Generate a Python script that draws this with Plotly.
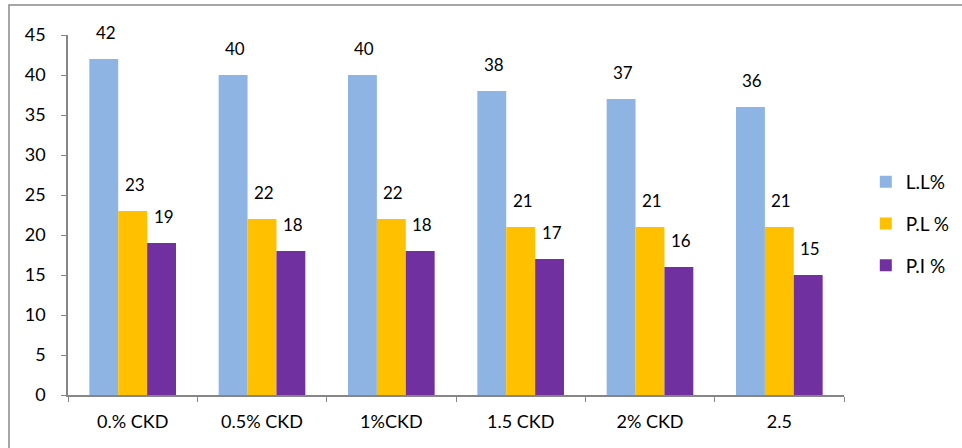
import plotly.graph_objects as go

categories = ["0.% CKD", "0.5% CKD", "1%CKD", "1.5 CKD", "2% CKD", "2.5"]
liquid_limit = [42, 40, 40, 38, 37, 36]
plastic_limit = [23, 22, 22, 21, 21, 21]
plasticity_index = [19, 18, 18, 17, 16, 15]

series = [
    ("L.L%", liquid_limit, "#8EB4E3"),
    ("P.L %", plastic_limit, "#FFC000"),
    ("P.I %", plasticity_index, "#7030A0"),
]

font_family = "Lato, Open Sans, sans-serif"
W, H = 962, 448
M = dict(l=68, r=118, t=35, b=53)
BARGAP = 0.33

fig = go.Figure()
for i, (name, vals, color) in enumerate(series):
    fig.add_trace(go.Bar(
        x=categories, y=vals, name=name,
        marker=dict(color=color, line=dict(width=0)),
        legendgroup=f"g{i}",
    ))

# value labels above each bar, offset to sit over its bar within the group
plot_w = W - M["l"] - M["r"]
cat_w = plot_w / len(categories)
bar_w = cat_w * (1 - BARGAP) / len(series)
for i, (name, vals, color) in enumerate(series):
    for j, v in enumerate(vals):
        fig.add_annotation(
            x=j, y=v, xref="x", yref="y", text=str(v), showarrow=False,
            xanchor="center", yanchor="bottom",
            xshift=(i - (len(series) - 1) / 2) * bar_w + 2, yshift=14,
            font=dict(size=17, color="#000000", family=font_family),
        )

fig.update_layout(
    width=W, height=H,
    margin=dict(**M, autoexpand=False),
    paper_bgcolor="white", plot_bgcolor="white",
    barmode="group", bargap=BARGAP, bargroupgap=0,
    font=dict(family=font_family, size=17, color="#000000"),
    showlegend=True,
    legend=dict(
        xref="container", yref="container",
        x=0.9, y=0.5, xanchor="left", yanchor="middle",
        font=dict(size=19), tracegroupgap=14,
        itemwidth=30, bgcolor="rgba(0,0,0,0)",
    ),
)
fig.update_yaxes(
    range=[0, 45], dtick=5, showgrid=False, zeroline=False,
    showline=True, linecolor="#868686", linewidth=1.5,
    ticks="outside", ticklen=5, tickcolor="#868686",
    tickfont=dict(size=18), ticklabelstandoff=12,
)
fig.update_xaxes(
    type="category",
    showgrid=False, showline=True, linecolor="#868686", linewidth=1.5,
    ticks="outside", ticklen=5, tickcolor="#868686", tickson="boundaries",
    tickfont=dict(size=18), ticklabelstandoff=10,
)
# outer frame around the chart (left and top edges lie inside the canvas)
fig.add_shape(type="rect", xref="paper", yref="paper",
              x0=-59 / plot_w, x1=1.3, y0=-0.3, y1=1 + 30 / (H - M["t"] - M["b"]),
              line=dict(color="#898989", width=1.5), layer="below")

fig.write_html("out.html")
